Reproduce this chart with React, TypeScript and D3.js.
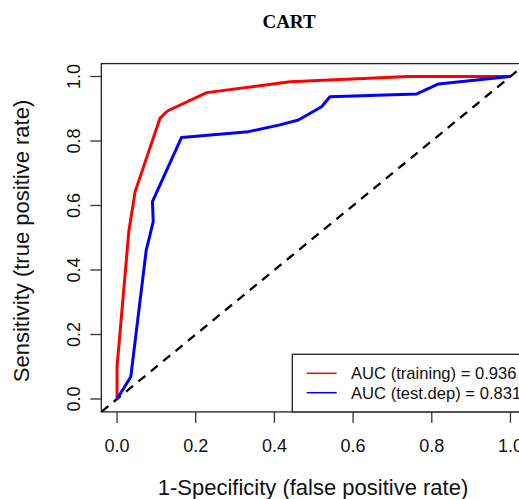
import React from 'react';
import * as d3 from 'd3';

// ROC points (x = 1 - specificity, y = sensitivity)
const trainingFpr = [0, 0, 0.03, 0.046, 0.109, 0.128, 0.228, 0.44, 0.74, 1];
const trainingTpr = [0, 0.1, 0.52, 0.643, 0.87, 0.893, 0.95, 0.984, 1.0, 1];

const testFpr = [0, 0.035, 0.074, 0.092, 0.09, 0.164, 0.334, 0.414, 0.461, 0.52, 0.541, 0.762, 0.817, 1];
const testTpr = [0, 0.069, 0.46, 0.55, 0.612, 0.811, 0.829, 0.85, 0.865, 0.906, 0.937, 0.946, 0.977, 1];

const ticks = [0, 0.2, 0.4, 0.6, 0.8, 1.0];
const legendLabels = ['AUC (training) = 0.936', 'AUC (test.dep) = 0.831'];
const legendColors = ['#ff0000', '#0000ff'];

const W = 519;
const H = 499;
const sans = 'Liberation Sans, Arial, sans-serif';

export default function App() {
  const x = d3.scaleLinear().domain([-0.04, 1.04]).range([101.3, 526.2]);
  const y = d3.scaleLinear().domain([-0.04, 1.04]).range([411.9, 63.6]);

  const line = d3
    .line<[number, number]>()
    .x((d) => x(d[0]))
    .y((d) => y(d[1]));

  const training = trainingFpr.map((v, i) => [v, trainingTpr[i]] as [number, number]);
  const test = testFpr.map((v, i) => [v, testTpr[i]] as [number, number]);

  const left = x(-0.04);
  const right = x(1.04);
  const top = y(1.04);
  const bottom = y(-0.04);

  const legTop = 354.3;
  const legLeft = 292.3;
  const rowY = [373.3, 392.7];

  return (
    <svg
      width={W}
      height={H}
      style={{ position: 'absolute', left: 0, top: 0, background: '#fff' }}
    >
      <defs>
        <clipPath id="plot">
          <rect x={left} y={top} width={right - left} height={bottom - top} />
        </clipPath>
      </defs>

      {/* title */}
      <text
        x={289}
        y={28}
        textAnchor="middle"
        fontFamily="Liberation Serif, Times New Roman, serif"
        fontWeight="bold"
        fontSize={19}
      >
        CART
      </text>

      {/* plot box */}
      <rect
        x={left}
        y={top}
        width={right - left}
        height={bottom - top}
        fill="none"
        stroke="#222"
        strokeWidth={1.3}
      />

      {/* x axis */}
      {ticks.map((t) => (
        <g key={'x' + t}>
          <line x1={x(t)} x2={x(t)} y1={bottom} y2={bottom + 11} stroke="#333" strokeWidth={1.3} />
          <text x={x(t)} y={452} textAnchor="middle" fontFamily={sans} fontSize={18} fill="#111">
            {t.toFixed(1)}
          </text>
        </g>
      ))}

      {/* y axis */}
      {ticks.map((t) => (
        <g key={'y' + t}>
          <line x1={left - 11} x2={left} y1={y(t)} y2={y(t)} stroke="#333" strokeWidth={1.3} />
          <text
            transform={`translate(80,${y(t)}) rotate(-90)`}
            textAnchor="middle"
            fontFamily={sans}
            fontSize={18}
            fill="#111"
          >
            {t.toFixed(1)}
          </text>
        </g>
      ))}

      {/* axis titles */}
      <text x={313} y={495} textAnchor="middle" fontFamily={sans} fontSize={22} fill="#111">
        1-Specificity (false positive rate)
      </text>
      <text
        transform="translate(28.7,241) rotate(-90)"
        textAnchor="middle"
        fontFamily={sans}
        fontSize={22}
        fill="#111"
      >
        Sensitivity (true positive rate)
      </text>

      <g clipPath="url(#plot)">
        {/* chance diagonal */}
        <line
          x1={x(-0.04)}
          y1={y(-0.04)}
          x2={x(1.04)}
          y2={y(1.04)}
          stroke="#000"
          strokeWidth={2.3}
          strokeDasharray="9,7"
        />
        <path d={line(training) ?? ''} fill="none" stroke={legendColors[0]} strokeWidth={3} strokeLinejoin="round" />
        <path d={line(test) ?? ''} fill="none" stroke={legendColors[1]} strokeWidth={3} strokeLinejoin="round" />
      </g>

      {/* legend */}
      <rect
        x={legLeft}
        y={legTop}
        width={W - legLeft + 10}
        height={bottom - legTop}
        fill="#fff"
        stroke="#222"
        strokeWidth={1.3}
      />
      {legendLabels.map((lab, i) => (
        <g key={lab}>
          <line x1={306.7} x2={336.7} y1={rowY[i]} y2={rowY[i]} stroke={legendColors[i]} strokeWidth={1.5} />
          <text x={351} y={rowY[i] + 5.9} fontFamily={sans} fontSize={16.6} fill="#111">
            {lab}
          </text>
        </g>
      ))}
    </svg>
  );
}
